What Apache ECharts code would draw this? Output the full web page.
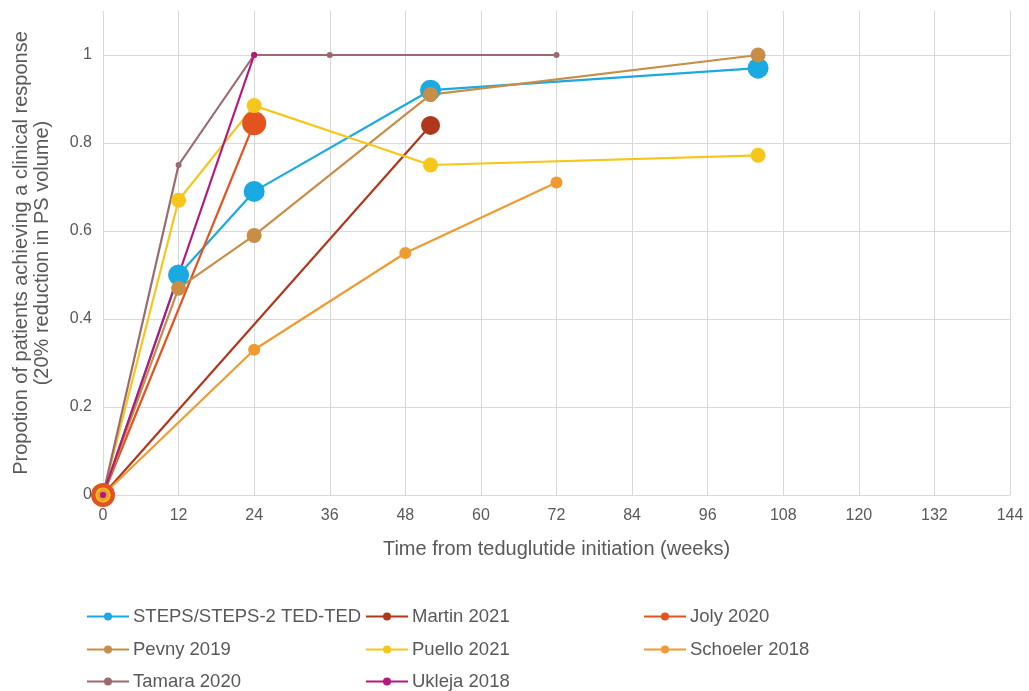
<!DOCTYPE html>
<html><head><meta charset="utf-8">
<script src="https://cdn.jsdelivr.net/npm/echarts@6/dist/echarts.min.js"></script>
<style>html,body{margin:0;padding:0;background:#fff}#c{width:1029px;height:691px}</style>
</head><body><div id="c"></div>
<script>
const seriesNames = ['STEPS/STEPS-2 TED-TED','Martin 2021','Joly 2020','Pevny 2019','Puello 2021','Schoeler 2018','Tamara 2020','Ukleja 2018'];
const stepsData   = [[0,0],[12,0.50],[24,0.69],[52,0.92],[104,0.97]];
const martinData  = [[0,0],[52,0.84]];
const jolyData    = [[0,0],[24,0.845]];
const pevnyData   = [[0,0],[12,0.47],[24,0.59],[52,0.91],[104,1.0]];
const puelloData  = [[0,0],[12,0.67],[24,0.885],[52,0.75],[104,0.772]];
const schoelerData= [[0,0],[24,0.33],[48,0.55],[72,0.71]];
const tamaraData  = [[0,0],[12,0.75],[24,1.0],[36,1.0],[72,1.0]];
const uklejaData  = [[0,0],[24,1.0]];
const xTicks = [0,12,24,36,48,60,72,84,96,108,120,132,144];
const yTicks = [0,0.2,0.4,0.6,0.8,1];

const colors = ['#1ba9e1','#b0361c','#e4521f','#c88d47','#f6c61a','#f19a30','#9b6a70','#b4187c'];
const sizes  = [21,19,24,15,15,12,6,6];
const datas  = [stepsData,martinData,jolyData,pevnyData,puelloData,schoelerData,tamaraData,uklejaData];
// legend slot (column, row) for each series
const slots = [[0,0],[1,0],[2,0],[0,1],[1,1],[2,1],[0,2],[1,2]];
const colLeft = [86,365,643];
const rowCenter = [615,648,680];

const chart = echarts.init(document.getElementById('c'));
const txt = '#595959';
const font = 'Liberation Sans, Arial, sans-serif';
const legends = seriesNames.map((n,i)=>({
  left: colLeft[slots[i][0]], top: rowCenter[slots[i][1]] - 8, orient:'horizontal',
  itemWidth: 42, itemHeight: 10, padding:0, data:[n], selectedMode:false,
  textStyle:{color: txt, fontSize: 18.5, fontFamily: font, padding:[0,0,0,-1]}
}));
chart.setOption({
  animation:false,
  grid:{left:103, right:19, top:11, bottom:196, containLabel:false},
  xAxis:{type:'value', min:0, max:144, interval:12,
    name:'Time from teduglutide initiation (weeks)', nameLocation:'middle', nameGap:44,
    nameTextStyle:{color:txt, fontSize:20, fontFamily:font},
    axisLine:{show:true, lineStyle:{color:'#d9d9d9', width:1}}, axisTick:{show:false},
    axisLabel:{color:txt, fontSize:16, fontFamily:font, margin:13},
    splitLine:{show:true, lineStyle:{color:'#d9d9d9', width:1}}},
  yAxis:{type:'value', min:0, max:1.1, interval:0.2,
    name:'Propotion of patients achieving a clinical response\n(20% reduction in PS volume)',
    nameLocation:'middle', nameGap:50, nameTextStyle:{color:txt, fontSize:20, fontFamily:font, lineHeight:21},
    axisLine:{show:false}, axisTick:{show:false},
    axisLabel:{color:txt, fontSize:16, fontFamily:font, margin:11, showMaxLabel:false,
      formatter: v => yTicks.some(t=>Math.abs(t-v)<1e-6) ? String(+v.toFixed(1)) : ''},
    splitLine:{show:true, showMaxLine:false, lineStyle:{color:'#d9d9d9', width:1}}},
  legend: legends,
  series: seriesNames.map((n,i)=>({
    name:n, type:'line', data:datas[i], symbol:'circle', symbolSize:sizes[i],
    showAllSymbol:true, lineStyle:{width:2.2, color:colors[i]}, itemStyle:{color:colors[i]},
    emphasis:{disabled:true}
  }))
});
</script></body></html>
